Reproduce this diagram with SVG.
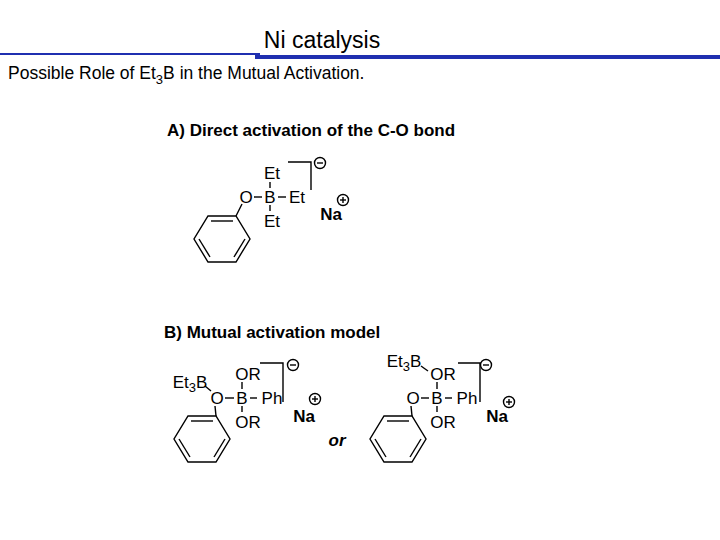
<svg xmlns="http://www.w3.org/2000/svg" width="720" height="540" viewBox="0 0 720 540">
<style>
text{font-family:"Liberation Sans",Arial,sans-serif;fill:#000}
.c{font-size:17px;text-anchor:middle}
.h{font-size:17px;font-weight:bold}
.b{stroke:#000;stroke-width:1.4;fill:none}
</style>
<defs>
<g id="benz" class="b">
<polygon points="208,216 236,216 250,239 236,262 208,262 194,239"/>
<line x1="211" y1="221" x2="233" y2="221"/>
<line x1="199" y1="239" x2="210" y2="257"/>
<line x1="245" y1="239" x2="234" y2="257"/>
</g>
<g id="minus"><circle r="5.5" class="b" stroke-width="1"/><line x1="-3" x2="3" class="b" stroke-width="1"/></g>
<g id="plus"><circle r="5.5" class="b" stroke-width="1"/><line x1="-3" x2="3" class="b" stroke-width="1"/><line y1="-3" y2="3" class="b" stroke-width="1"/></g>
</defs>
<rect width="720" height="540" fill="#fff"/>
<text x="322" y="48" style="font-size:23px" text-anchor="middle">Ni catalysis</text>
<line x1="0" y1="54" x2="260" y2="54" stroke="#1f2fb0" stroke-width="2"/>
<line x1="255" y1="57" x2="720" y2="57" stroke="#1f2fb0" stroke-width="4"/>
<text x="8" y="79" style="font-size:17.5px">Possible Role of Et<tspan dy="5" font-size="13">3</tspan><tspan dy="-5">B in the Mutual Activation.</tspan></text>

<g id="panelA">
<text x="167" y="136" class="h">A) Direct activation of the C-O bond</text>
<use href="#benz"/>
<line x1="236" y1="216" x2="242" y2="204" class="b"/>
<text x="246" y="203" class="c">O</text>
<line x1="254" y1="197" x2="262" y2="197" class="b"/>
<text x="270" y="203" class="c">B</text>
<line x1="278" y1="197" x2="286" y2="197" class="b"/>
<text x="297" y="203" class="c">Et</text>
<text x="272" y="179" class="c">Et</text>
<line x1="270" y1="182" x2="270" y2="188" class="b"/>
<line x1="270" y1="205" x2="270" y2="211" class="b"/>
<text x="272" y="227" class="c">Et</text>
<polyline points="288,162 311,162 311,190" class="b"/>
<use href="#minus" x="320" y="163"/>
<use href="#plus" x="343" y="200"/>
<text x="331" y="220" class="c" font-weight="bold">Na</text>
</g>

<g id="panelB">
<text x="164" y="338" class="h">B) Mutual activation model</text>
<g id="left">
<use href="#benz" transform="translate(-20,200)"/>
<line x1="216" y1="416" x2="215" y2="406" class="b"/>
<text x="190" y="388" class="c">Et<tspan dy="4" font-size="13">3</tspan><tspan dy="-4">B</tspan></text>
<line x1="205" y1="386" x2="211" y2="391" class="b"/>
<text x="217" y="404" class="c">O</text>
<line x1="225" y1="398" x2="234" y2="398" class="b"/>
<text x="242" y="404" class="c">B</text>
<line x1="250" y1="398" x2="257" y2="398" class="b"/>
<text x="272" y="404" class="c">Ph</text>
<text x="248" y="380" class="c">OR</text>
<line x1="242" y1="382" x2="242" y2="389" class="b"/>
<line x1="242" y1="406" x2="242" y2="412" class="b"/>
<text x="248" y="428" class="c">OR</text>
<polyline points="260,363 283,363 283,402" class="b"/>
<use href="#minus" x="293" y="365"/>
<use href="#plus" x="315" y="399"/>
<text x="304" y="422" class="c" font-weight="bold">Na</text>
</g>
<text x="337" y="446" class="c" font-weight="bold" font-style="italic">or</text>
<g id="right">
<use href="#benz" transform="translate(176,200)"/>
<line x1="412" y1="416" x2="411" y2="406" class="b"/>
<text x="404" y="367" class="c">Et<tspan dy="4" font-size="13">3</tspan><tspan dy="-4">B</tspan></text>
<line x1="421" y1="366" x2="428" y2="371" class="b"/>
<text x="413" y="404" class="c">O</text>
<line x1="421" y1="398" x2="429" y2="398" class="b"/>
<text x="437" y="404" class="c">B</text>
<line x1="445" y1="398" x2="452" y2="398" class="b"/>
<text x="467" y="404" class="c">Ph</text>
<text x="443" y="380" class="c">OR</text>
<line x1="437" y1="382" x2="437" y2="389" class="b"/>
<line x1="437" y1="406" x2="437" y2="412" class="b"/>
<text x="443" y="428" class="c">OR</text>
<polyline points="458,363 480,363 480,402" class="b"/>
<use href="#minus" x="486" y="365"/>
<use href="#plus" x="509" y="402"/>
<text x="497" y="422" class="c" font-weight="bold">Na</text>
</g>
</g>
</svg>
